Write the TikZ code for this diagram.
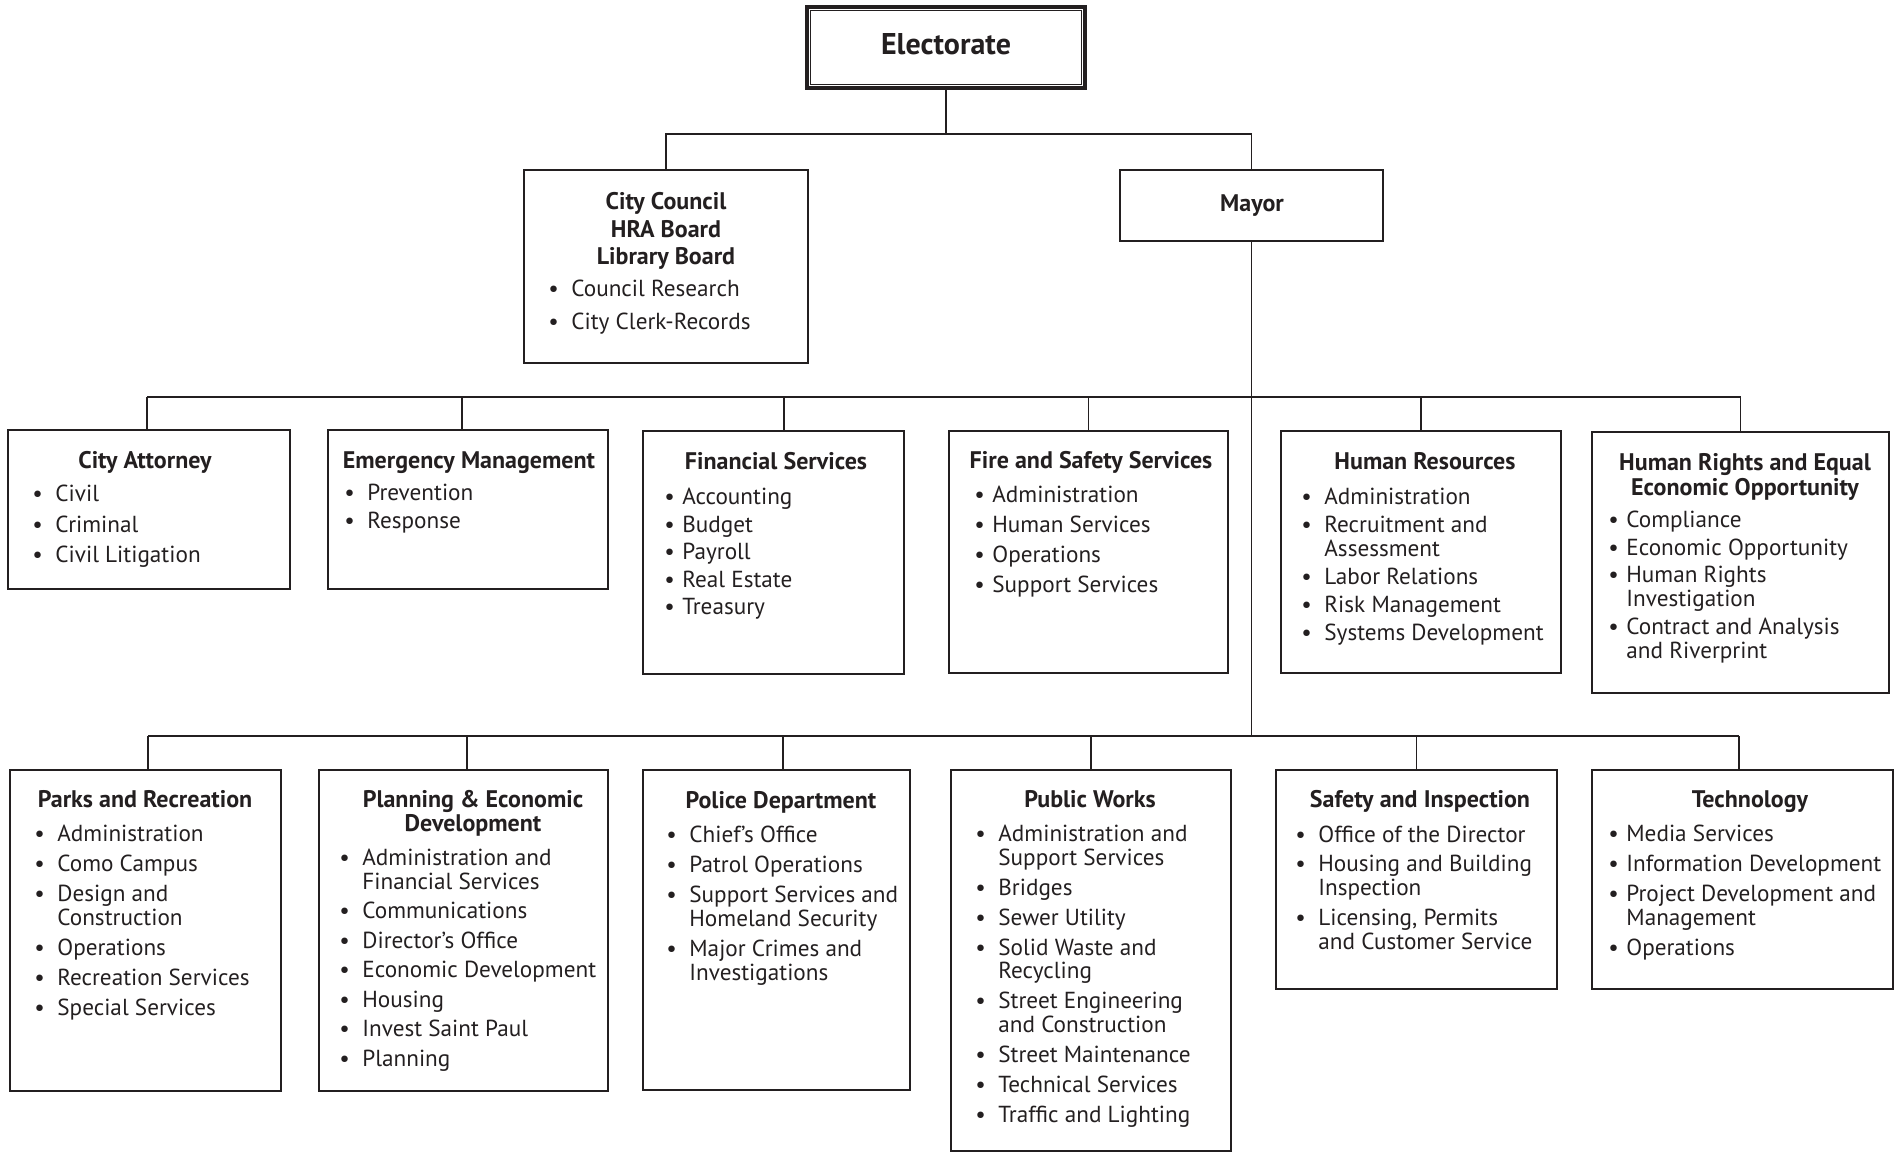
\documentclass[tikz,border=0pt]{standalone}
\usepackage{fontspec}
\setmainfont{PT Sans}
\usetikzlibrary{fit}
\definecolor{ink}{RGB}{35,31,32}
\newcommand{\bl}{\makebox[11.5pt][l]{\textbullet}}
\newcommand{\bn}{\makebox[9pt][l]{\textbullet}}
\newcommand{\ind}{\hspace*{11.5pt}}
\newcommand{\inn}{\hspace*{9pt}}
\newcommand{\llines}[1]{\begin{tabular}[t]{@{}l@{}}#1\end{tabular}}
\newcommand{\clines}[1]{\begin{tabular}[t]{@{}c@{}}#1\end{tabular}}
\begin{document}
\begin{tikzpicture}[x=0.5pt, y=-0.5pt,
    box/.style={draw=ink, line width=1.15pt, inner sep=0pt},
    wire/.style={draw=ink, line width=0.8pt},
    ttl/.style={font=\bfseries\fontsize{12}{12}\selectfont, text=ink, inner sep=0pt, anchor=base},
    lst/.style={font=\fontsize{11.6}{12}\selectfont, text=ink, inner sep=0pt, anchor=base west}]
  \useasboundingbox (0,0) rectangle (1896,1154);

  % Top: electorate, council and mayor
  \node[box, line width=2pt, fit={(807,7) (1085,88)}] (elec) {};
  \draw[ink, line width=0.65pt] ([shift={(2.6pt,-2.6pt)}]elec.north west) rectangle ([shift={(-2.6pt,2.6pt)}]elec.south east);
  \node[ttl, font=\bfseries\fontsize{15}{15}\selectfont] (elecT) at (946,55) {Electorate};

  \node[box, fit={(524,170) (808,363)}] (cc) {};
  \node[ttl] (ccT) at (666,210) {\clines{City Council\\[1.5pt]HRA Board\\[1.5pt]Library Board}};
  \node[lst] (ccL) at (548,297) {\llines{\bl Council Research\\[4.5pt]\bl City Clerk-Records}};

  \node[box, fit={(1120,170) (1383,241)}] (mayor) {};
  \node[ttl] (mayorT) at (1252,212) {Mayor};

  % Row 1 boxes
  \node[box, fit={(8,430) (290,589)}] (att) {};
  \node[ttl] (attT) at (145,469) {City Attorney};
  \node[lst] (attL) at (32,502) {\llines{\bl Civil\\[3.25pt]\bl Criminal\\[3.25pt]\bl Civil Litigation}};

  \node[box, fit={(328,430) (608,589)}] (emg) {};
  \node[ttl] (emgT) at (469,469) {Emergency Management};
  \node[lst] (emgL) at (344,501) {\llines{\bl Prevention\\[2pt]\bl Response}};

  \node[box, fit={(643,431) (904,674)}] (fin) {};
  \node[ttl] (finT) at (776,470) {Financial Services};
  \node[lst] (finL) at (664,505) {\llines{\bn Accounting\\[1.75pt]\bn Budget\\[1.75pt]\bn Payroll\\[1.75pt]\bn Real Estate\\[1.75pt]\bn Treasury}};

  \node[box, fit={(949,431) (1228,673)}] (fire) {};
  \node[ttl] (fireT) at (1091,469) {Fire and Safety Services};
  \node[lst] (fireL) at (974,503) {\llines{\bn Administration\\[3pt]\bn Human Services\\[3pt]\bn Operations\\[3pt]\bn Support Services}};

  \node[box, fit={(1281,431) (1561,673)}] (hr) {};
  \node[ttl] (hrT) at (1425,470) {Human Resources};
  \node[lst] (hrL) at (1301,505) {\llines{\bl Administration\\[2pt]\bl Recruitment and\\\ind Assessment\\[2pt]\bl Labor Relations\\[2pt]\bl Risk Management\\[2pt]\bl Systems Development}};

  \node[box, fit={(1592,432) (1889,693)}] (hreo) {};
  \node[ttl] (hreoT) at (1745,471) {\clines{Human Rights and Equal\\Economic Opportunity}};
  \node[lst] (hreoL) at (1608,528) {\llines{\bn Compliance\\[1.75pt]\bn Economic Opportunity\\[1.75pt]\bn Human Rights\\\inn Investigation\\[1.75pt]\bn Contract and Analysis\\\inn and Riverprint}};

  % Row 2 boxes
  \node[box, fit={(10,770) (281,1091)}] (parks) {};
  \node[ttl] (parksT) at (145,807) {Parks and Recreation};
  \node[lst] (parksL) at (34,841) {\llines{\bl Administration\\[3pt]\bl Como Campus\\[3pt]\bl Design and\\\ind Construction\\[3pt]\bl Operations\\[3pt]\bl Recreation Services\\[3pt]\bl Special Services}};

  \node[box, fit={(319,770) (608,1091)}] (plan) {};
  \node[ttl] (planT) at (473,807) {\clines{Planning \& Economic\\Development}};
  \node[lst] (planL) at (339,865) {\llines{\bl Administration and\\\ind Financial Services\\[2.75pt]\bl Communications\\[2.75pt]\bl Director's Office\\[2.75pt]\bl Economic Development\\[2.75pt]\bl Housing\\[2.75pt]\bl Invest Saint Paul\\[2.75pt]\bl Planning}};

  \node[box, fit={(643,770) (910,1090)}] (police) {};
  \node[ttl] (policeT) at (781,808) {Police Department};
  \node[lst] (policeL) at (666,842) {\llines{\bl Chief's Office\\[3pt]\bl Patrol Operations\\[3pt]\bl Support Services and\\\ind Homeland Security\\[3pt]\bl Major Crimes and\\\ind Investigations}};

  \node[box, fit={(951,770) (1231,1151)}] (pw) {};
  \node[ttl] (pwT) at (1090,807) {Public Works};
  \node[lst] (pwL) at (975,841) {\llines{\bl Administration and\\\ind Support Services\\[3pt]\bl Bridges\\[3pt]\bl Sewer Utility\\[3pt]\bl Solid Waste and\\\ind Recycling\\[3pt]\bl Street Engineering\\\ind and Construction\\[3pt]\bl Street Maintenance\\[3pt]\bl Technical Services\\[3pt]\bl Traffic and Lighting}};

  \node[box, fit={(1276,770) (1557,989)}] (safety) {};
  \node[ttl] (safetyT) at (1420,807) {Safety and Inspection};
  \node[lst] (safetyL) at (1295,842) {\llines{\bl Office of the Director\\[2.75pt]\bl Housing and Building\\\ind Inspection\\[2.75pt]\bl Licensing, Permits\\\ind and Customer Service}};

  \node[box, fit={(1592,770) (1893,989)}] (tech) {};
  \node[ttl] (techT) at (1750,807) {Technology};
  \node[lst] (techL) at (1608,841) {\llines{\bn Media Services\\[3pt]\bn Information Development\\[3pt]\bn Project Development and\\\inn Management\\[3pt]\bn Operations}};

  % Draw connectors
  \coordinate (top) at (946,134);
  \coordinate (bus1) at (0,397);
  \coordinate (bus2) at (0,736);
  \draw[wire] (elec.south) -- (top);
  \draw[wire] (cc.north) |- (top) -| (mayor.north);
  \draw[wire] (mayor.south) -- (mayor.south |- bus2);
  \draw[wire] ([xshift=-1pt]att.north |- bus1) -- (hreo.north |- bus1);
  \draw[wire] ([xshift=1.25pt]parks.north |- bus2) -- ([xshift=-1.75pt]tech.north |- bus2);
  \foreach \n/\s in {att/-1,emg/-3,fin/5.25,fire/0,hr/0,hreo/0} {
    \draw[wire] ([xshift=\s pt]\n.north) coordinate (d) -- (d |- bus1);
  }
  \foreach \n/\s in {parks/1.25,plan/1.75,police/3.25,pw/0,safety/0,tech/-1.75} {
    \draw[wire] ([xshift=\s pt]\n.north) coordinate (d) -- (d |- bus2);
  }
\end{tikzpicture}
\end{document}
